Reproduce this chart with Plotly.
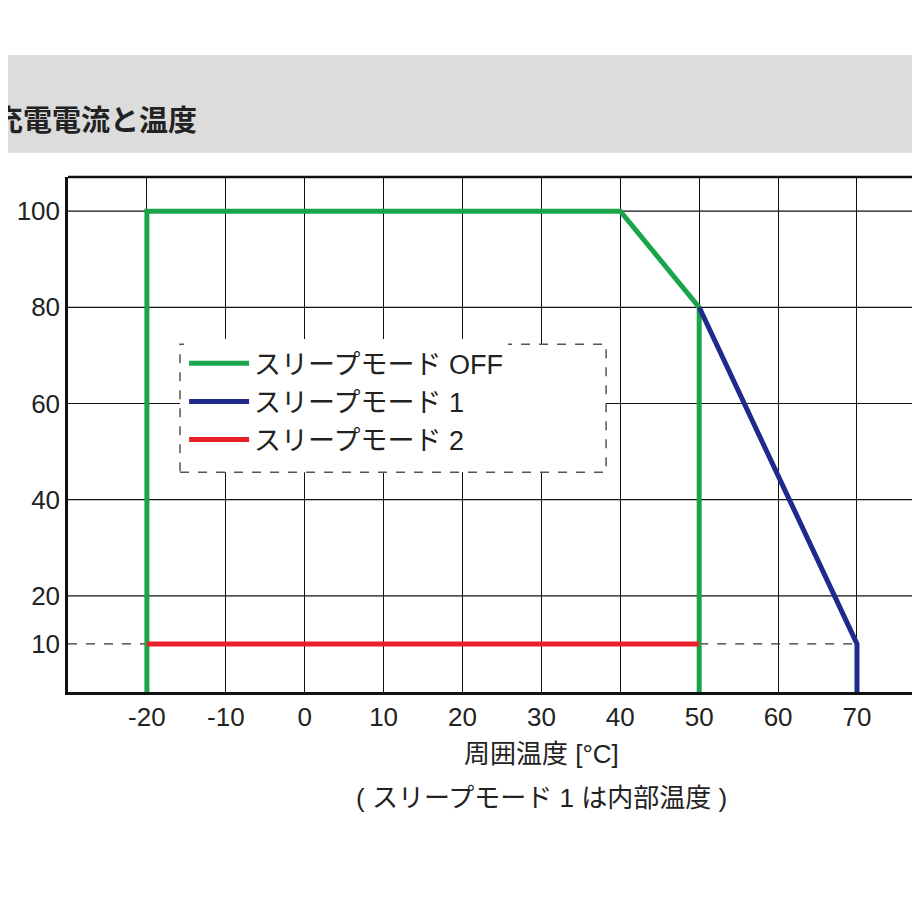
import plotly.graph_objects as go

off_x = [-20, -20, 40, 50, 50]
off_y = [0, 100, 100, 80, 0]
m1_x = [50, 70, 70]
m1_y = [80, 10, 0]
m2_x = [-20, 50]
m2_y = [10, 10]
xticks = [-20, -10, 0, 10, 20, 30, 40, 50, 60, 70]
xtick_text = ["-20", "-10", "0", "10", "20", "30", "40", "50", "60", "70"]
yticks = [10, 20, 40, 60, 80, 100]
font = "Liberation Sans, Noto Sans CJK JP"

fig = go.Figure()
fig.add_trace(go.Scatter(x=[-30, -20], y=[10, 10], mode="lines", line=dict(color="#333", width=1.2, dash="dash"), showlegend=False))
fig.add_trace(go.Scatter(x=[50, 70], y=[10, 10], mode="lines", line=dict(color="#333", width=1.2, dash="dash"), showlegend=False))
fig.add_trace(go.Scatter(x=off_x, y=off_y, mode="lines", name="スリープモード OFF", line=dict(color="#1aa54b", width=5)))
fig.add_trace(go.Scatter(x=m1_x, y=m1_y, mode="lines", name="スリープモード 1", line=dict(color="#1f2a8c", width=5)))
fig.add_trace(go.Scatter(x=m2_x, y=m2_y, mode="lines", name="スリープモード 2", line=dict(color="#e8202a", width=5)))

fig.update_layout(
    width=920, height=920, margin=dict(l=60, r=0, t=169, b=236),
    plot_bgcolor="white", paper_bgcolor="white",
    font=dict(family=font, size=26, color="#222"),
    xaxis=dict(range=[-30, 79], tickvals=xticks, ticktext=xtick_text, showgrid=True, gridcolor="#111", gridwidth=1.2,
               showline=True, linecolor="#111", linewidth=2.5, zeroline=False, ticks="", ticklen=0),
    yaxis=dict(range=[0, 107.1], tickvals=yticks, showgrid=False,
               showline=True, linecolor="#111", linewidth=2.5, zeroline=False, ticks=""),
    legend=dict(x=0.135, y=0.685, xanchor="left", yanchor="top", bgcolor="rgba(255,255,255,1)",
                font=dict(size=27, color="#222"), itemwidth=60, tracegroupgap=0),
    showlegend=True,
)
for v in [20, 40, 60, 80, 100]:
    fig.add_shape(type="line", xref="paper", yref="y", x0=0, x1=1, y0=v, y1=v, line=dict(color="#111", width=1.2), layer="below")
fig.add_shape(type="line", xref="paper", yref="paper", x0=0, x1=1, y0=1, y1=1, line=dict(color="#111", width=2.5))
fig.add_shape(type="rect", xref="x", yref="y", x0=-15.8, x1=38.2, y0=45.7, y1=72.3,
              line=dict(color="#555", width=1.5, dash="dash"), fillcolor="white", layer="above")
fig.add_shape(type="rect", xref="paper", yref="paper", x0=-0.1, x1=1.1, y0=1.237, y1=1.047,
              line=dict(width=0), fillcolor="#dcdcdc")
fig.add_annotation(text="<b>充電電流と温度</b>", xref="paper", yref="paper", x=-0.088, y=1.144, xanchor="left",
                   showarrow=False, font=dict(size=29, color="#222"))
fig.add_annotation(text="周囲温度 [°C]", xref="x", yref="paper", x=30, y=-0.12, yanchor="middle",
                   showarrow=False, font=dict(size=26))
fig.add_annotation(text="( スリープモード 1 は内部温度 )", xref="x", yref="paper", x=30, y=-0.205, yanchor="middle",
                   showarrow=False, font=dict(size=26))
fig.write_html("out.html")
